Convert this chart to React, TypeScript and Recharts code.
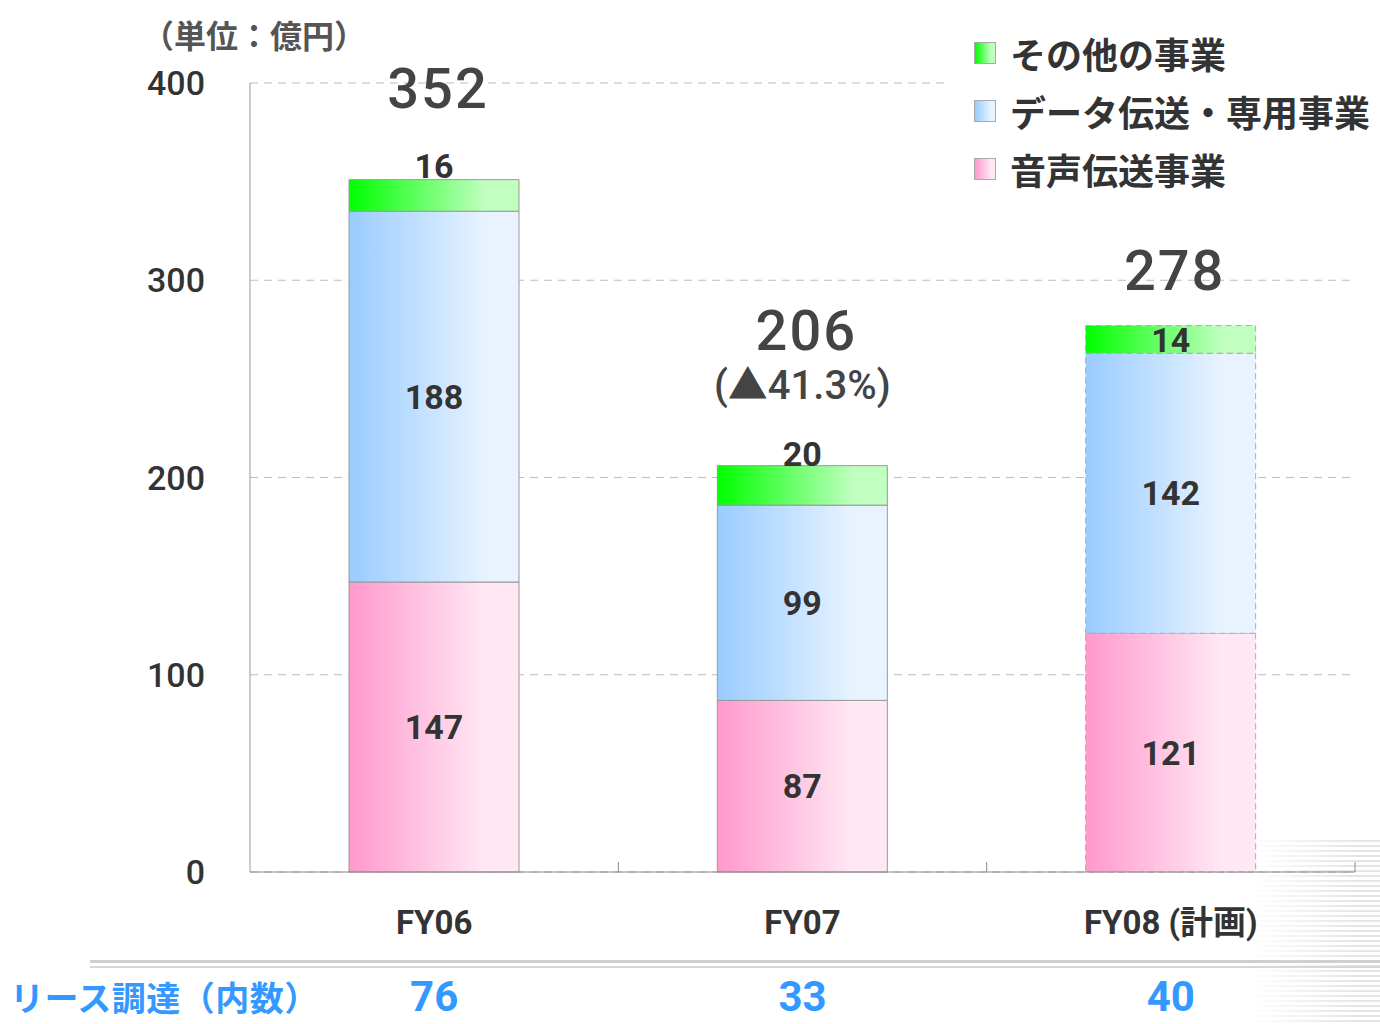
import { BarChart, Bar, XAxis, YAxis, CartesianGrid, LabelList, Cell } from "recharts";

const categories = ["FY06", "FY07", "FY08 (計画)"];
const voice = [147, 87, 121];
const dataLine = [188, 99, 142];
const other = [16, 20, 14];
const totals = [352, 206, 278];
const changeNotes = ["", "(▲41.3%)", ""];
const lease = [76, 33, 40];
const yTicks = [0, 100, 200, 300, 400];

const seriesNames = {
  other: "その他の事業",
  data: "データ伝送・専用事業",
  voice: "音声伝送事業",
};

const rows = categories.map((name, i) => ({
  name,
  voice: voice[i],
  data: dataLine[i],
  other: other[i],
  total: totals[i],
  note: changeNotes[i],
}));

const FONT = "Roboto, 'Noto Sans CJK JP', sans-serif";
const JP_FONT = "'Noto Sans CJK JP', Roboto, sans-serif";

// how far above the bar top the small "other" label sits (0 = centred)
const otherLabelLift = [14, 12, 0];
const totalLift = [92, 136, 56];
const noteLift = 81;

const gradients = [
  { id: "gOther", from: "#00ff00", to: "#c0ffc0" },
  { id: "gData", from: "#99ccff", to: "#e8f3ff" },
  { id: "gVoice", from: "#ff99cc", to: "#ffe8f4" },
];

const OtherLabel = (props: any) => {
  const { x, y, width, height, value, index } = props;
  const lift = otherLabelLift[index];
  const cy = lift ? y - lift : y + height / 2;
  return (
    <text x={x + width / 2} y={cy} dy="0.36em" textAnchor="middle" fontSize={34} fontWeight={700} fill="#333" fontFamily={FONT}>
      {value}
    </text>
  );
};

const TotalLabel = (props: any) => {
  const { x, y, width, value, index } = props;
  const cx = x + width / 2;
  const note = changeNotes[index];
  return (
    <g>
      <text x={cx + 4} y={y - totalLift[index]} dy="0.36em" textAnchor="middle" fontSize={56} fontWeight={500} fill="#444" fontFamily={FONT} letterSpacing={2}>
        {value}
      </text>
      {note && (
        <text x={cx} y={y - noteLift} dy="0.36em" textAnchor="middle" fontSize={40} fontWeight={500} fill="#444" fontFamily={FONT}>
          {note}
        </text>
      )}
    </g>
  );
};

// category label, lease figure below it, and a small inward tick at the band's right edge
const CategoryTick = (props: any) => {
  const { x, y, payload, index } = props;
  const edge = x + (payload.offset ?? 0);
  return (
    <g>
      <line x1={edge} y1={y - 10} x2={edge} y2={y} stroke="#888" />
      <text x={x} y={y} dy={62} textAnchor="middle" fontSize={33} fontWeight={700} fill="#333" fontFamily={FONT}>
        {payload.value}
      </text>
      <text x={x} y={y} dy={139} textAnchor="middle" fontSize={42} fontWeight={700} fill="#3399ff" fontFamily={FONT}>
        {lease[index]}
      </text>
    </g>
  );
};

const legendItems = [
  { name: seriesNames.other, grad: gradients[0] },
  { name: seriesNames.data, grad: gradients[1] },
  { name: seriesNames.voice, grad: gradients[2] },
];

export default function App() {
  return (
    <div style={{ position: "absolute", left: 0, top: 0, width: 1380, height: 1024, background: "#fff", overflow: "hidden" }}>
      {/* faint striped shading bottom right */}
      <div
        style={{
          position: "absolute",
          left: 1250,
          top: 840,
          width: 130,
          height: 184,
          background: "repeating-linear-gradient(to bottom, #e4e4e4 0 2px, rgba(255,255,255,0) 2px 5px)",
          WebkitMaskImage: "linear-gradient(to right, transparent, black 85%)",
          maskImage: "linear-gradient(to right, transparent, black 85%)",
        }}
      />
      <div style={{ position: "absolute", left: 90, right: 0, top: 960, height: 3, background: "#cfcfcf" }} />
      <div style={{ position: "absolute", left: 90, right: 0, top: 966, height: 2, background: "#d6d6d6" }} />

      <div style={{ position: "absolute", left: 0, top: 0 }}>
        <BarChart width={1380} height={1024} data={rows} margin={{ top: 83, right: 25, left: 150, bottom: 92 }} barSize={170}>
          <defs>
            {gradients.map((g) => (
              <linearGradient key={g.id} id={g.id} x1="0" y1="0" x2="1" y2="0">
                <stop offset="0%" stopColor={g.from} />
                <stop offset="80%" stopColor={g.to} />
                <stop offset="100%" stopColor={g.to} />
              </linearGradient>
            ))}
          </defs>
          <CartesianGrid vertical={false} stroke="#bdbdbd" strokeDasharray="8 6" />
          <XAxis
            dataKey="name"
            axisLine={{ stroke: "#888" }}
            tickLine={false}
            tickSize={0}
            tickMargin={0}
            height={60}
            interval={0}
            tick={<CategoryTick />}
          />
          <YAxis
            domain={[0, 400]}
            ticks={yTicks}
            width={100}
            axisLine={{ stroke: "#999" }}
            tickLine={false}
            tickSize={0}
            tickMargin={45}
            tick={{ fontSize: 34, fontWeight: 500, fill: "#333", fontFamily: FONT }}
          />
          <Bar dataKey="voice" stackId="a" fill="url(#gVoice)" isAnimationActive={false}>
            {rows.map((_, i) => (
              <Cell key={i} stroke={i === 2 ? "#aaa" : "#999"} strokeDasharray={i === 2 ? "6 4" : undefined} />
            ))}
            <LabelList dataKey="voice" position="center" fill="#333" fontSize={34} fontWeight={700} fontFamily={FONT} />
          </Bar>
          <Bar dataKey="data" stackId="a" fill="url(#gData)" isAnimationActive={false}>
            {rows.map((_, i) => (
              <Cell key={i} stroke={i === 2 ? "#aaa" : "#999"} strokeDasharray={i === 2 ? "6 4" : undefined} />
            ))}
            <LabelList dataKey="data" position="center" fill="#333" fontSize={34} fontWeight={700} fontFamily={FONT} />
          </Bar>
          <Bar dataKey="other" stackId="a" fill="url(#gOther)" isAnimationActive={false}>
            {rows.map((_, i) => (
              <Cell key={i} stroke={i === 2 ? "#aaa" : "#999"} strokeDasharray={i === 2 ? "6 4" : undefined} />
            ))}
            <LabelList dataKey="other" content={<OtherLabel />} />
            <LabelList dataKey="total" content={<TotalLabel />} />
          </Bar>
        </BarChart>
      </div>

      <div style={{ position: "absolute", left: 142, top: 11, fontFamily: JP_FONT, fontSize: 32, fontWeight: 700, color: "#555", whiteSpace: "nowrap" }}>
        （単位：億円）
      </div>

      <div style={{ position: "absolute", left: 950, top: 24, width: 430, height: 170, background: "#fff", fontFamily: JP_FONT }}>
        {legendItems.map((it, i) => (
          <div key={it.name} style={{ position: "absolute", left: 24, top: 8 + i * 58, display: "flex", alignItems: "center", height: 42 }}>
            <div
              style={{
                width: 20,
                height: 20,
                border: "1px solid #aaa",
                background: `linear-gradient(to right, ${it.grad.from}, ${it.grad.to} 80%)`,
                marginRight: 14,
              }}
            />
            <span style={{ fontSize: 36, fontWeight: 700, color: "#333", whiteSpace: "nowrap", lineHeight: "42px" }}>{it.name}</span>
          </div>
        ))}
      </div>

      <div
        style={{
          position: "absolute",
          left: 10,
          top: 972,
          fontFamily: JP_FONT,
          fontSize: 34,
          lineHeight: "49px",
          fontWeight: 700,
          color: "#3399ff",
          whiteSpace: "nowrap",
          letterSpacing: 0.5,
        }}
      >
        リース調達（内数）
      </div>
    </div>
  );
}
